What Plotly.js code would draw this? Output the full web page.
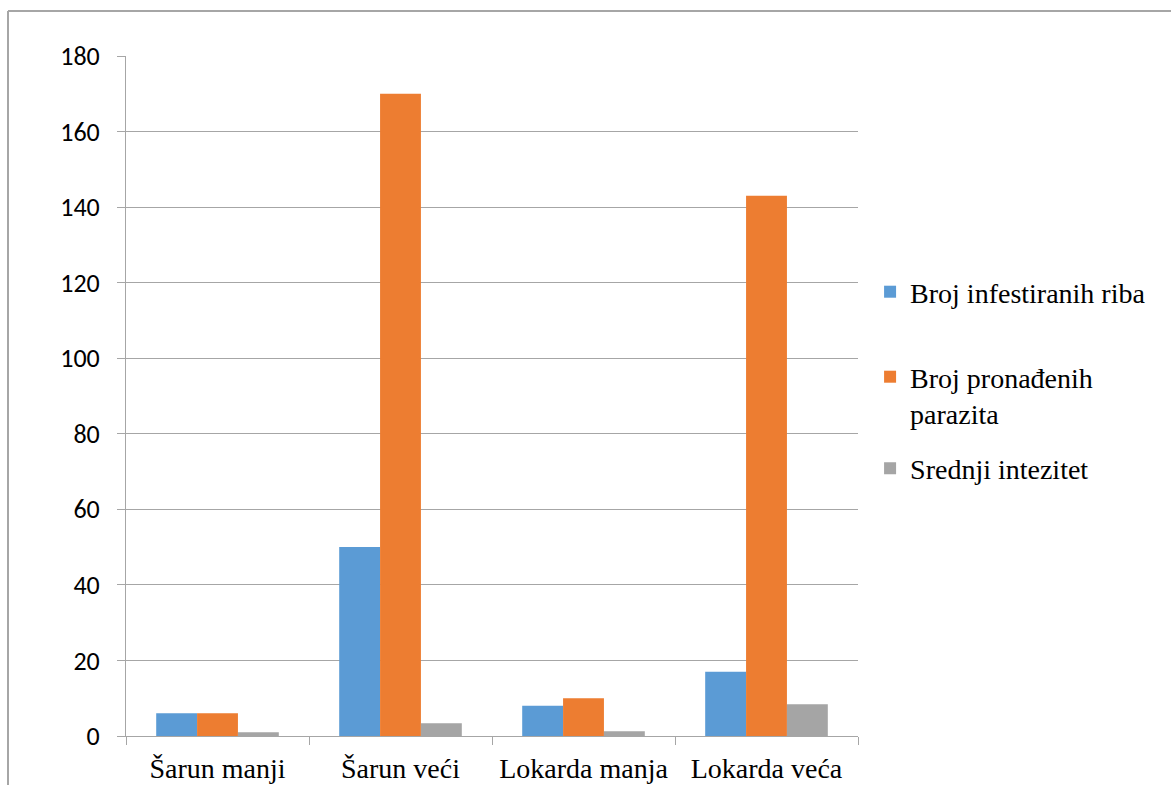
<!DOCTYPE html>
<html>
<head>
<meta charset="utf-8">
<script src="https://cdn.plot.ly/plotly-3.0.1.min.js"></script>
<style>
html,body{margin:0;padding:0;background:#fff;}
#chart{width:1171px;height:785px;}
</style>
</head>
<body>
<div id="chart"></div>
<script>
var categories = ["Šarun manji", "Šarun veći", "Lokarda manja", "Lokarda veća"];
var infestiraneRibe = [6, 50, 8, 17];
var pronadeniParaziti = [6, 170, 10, 143];
var srednjiIntezitet = [1, 3.4, 1.25, 8.4];
var seriesNames = ["Broj infestiranih riba", "Broj pronađenih<br>parazita", "Srednji intezitet"];
var yTicks = [0, 20, 40, 60, 80, 100, 120, 140, 160, 180];

var colors = ["#5B9BD5", "#ED7D31", "#A5A5A5"];
var legendIds = ["legend", "legend2", "legend3"];
var values = [infestiraneRibe, pronadeniParaziti, srednjiIntezitet];
var data = values.map(function (v, i) {
  return {
    type: "bar",
    x: categories,
    y: v,
    name: seriesNames[i],
    legend: legendIds[i],
    marker: {color: colors[i]},
    hoverinfo: "x+y"
  };
});

var serif = "Liberation Serif";
var gridColor = "#a6a6a6";
function leg(y) {
  return {
    x: 1.0165, y: y, xanchor: "left", yanchor: "top",
    valign: "top",
    bgcolor: "rgba(0,0,0,0)",
    font: {family: serif, size: 28, color: "#000"},
    itemwidth: 30
  };
}
var layout = {
  width: 1171,
  height: 785,
  margin: {l: 126, r: 313, t: 56, b: 49},
  paper_bgcolor: "#fff",
  plot_bgcolor: "#fff",
  barmode: "group",
  bargap: 0.33,
  bargroupgap: 0,
  showlegend: true,
  font: {family: serif},
  legend: leg(0.6897),
  legend2: leg(0.5647),
  legend3: leg(0.4301),
  xaxis: {
    type: "category",
    showline: true, linecolor: gridColor, linewidth: 1,
    ticks: "outside", tickson: "boundaries", ticklen: 8, tickcolor: gridColor,
    ticklabelstandoff: 7,
    tickfont: {family: serif, size: 28, color: "#000"},
    showgrid: false,
    fixedrange: true
  },
  yaxis: {
    range: [0, 180],
    tickvals: yTicks,
    ticktext: yTicks.map(String),
    showgrid: true, gridcolor: gridColor, gridwidth: 1,
    showline: true, linecolor: gridColor, linewidth: 1,
    ticks: "outside", ticklen: 8, tickcolor: gridColor,
    ticklabelstandoff: 12,
    zeroline: false,
    tickfont: {family: "Carlito", size: 26, color: "#000"},
    fixedrange: true
  },
  shapes: [
    {type: "line", xref: "paper", yref: "paper", x0: -0.1612, x1: -0.1612, y0: 1.0662, y1: -0.08, line: {color: "#a6a6a6", width: 2}},
    {type: "line", xref: "paper", yref: "paper", x0: -0.1612, x1: 1.43, y0: 1.0662, y1: 1.0662, line: {color: "#a6a6a6", width: 2}}
  ]
};

Plotly.newPlot("chart", data, layout, {displayModeBar: false, staticPlot: true});
</script>
</body>
</html>
